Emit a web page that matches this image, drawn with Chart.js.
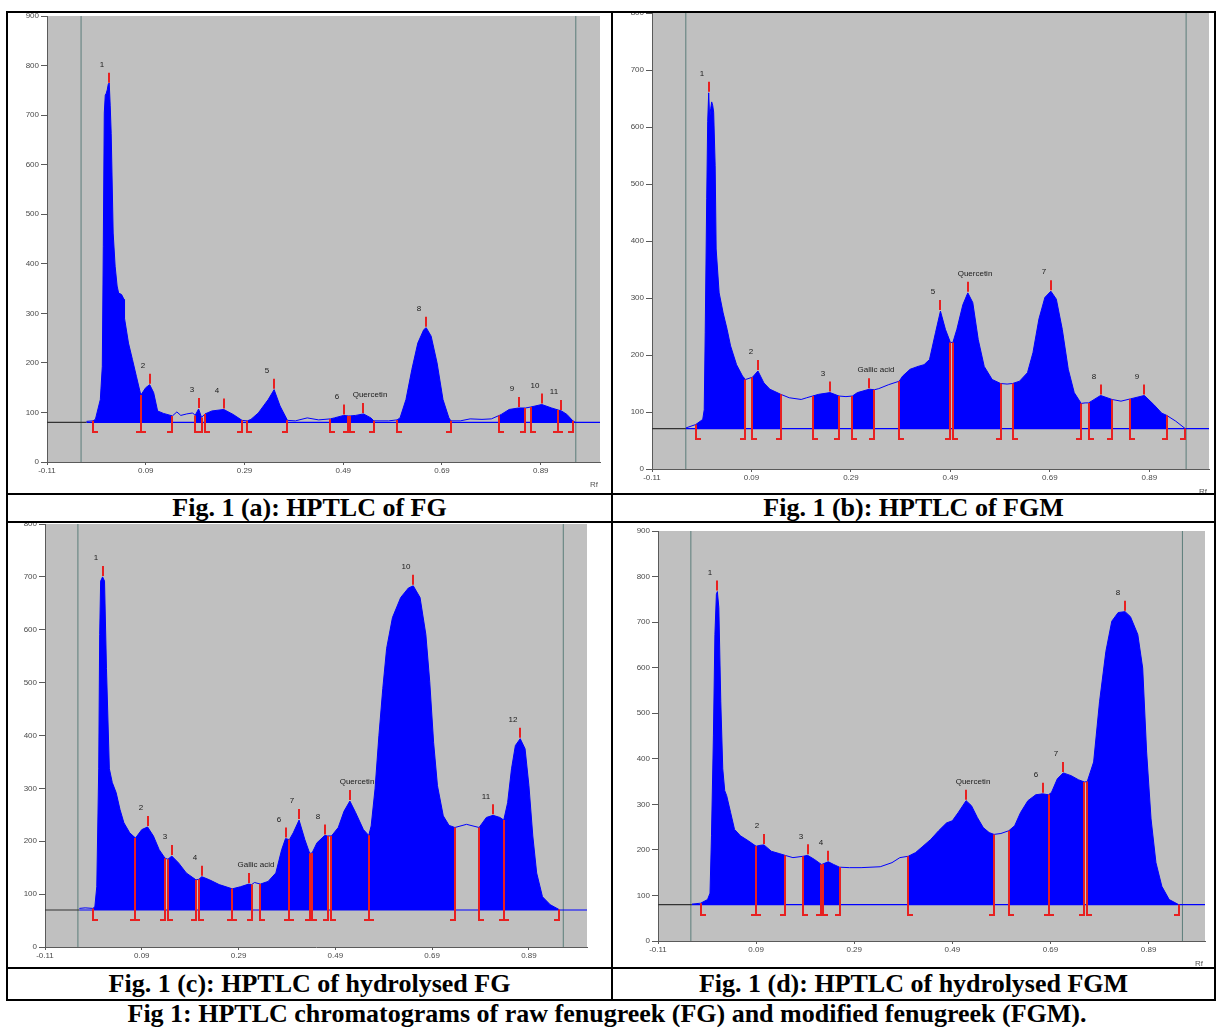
<!DOCTYPE html>
<html><head><meta charset="utf-8">
<script src="https://cdn.jsdelivr.net/npm/chart.js@4.4.1/dist/chart.umd.min.js"></script>
<style>
html,body{margin:0;padding:0;background:#fff;}
body{width:1217px;height:1027px;position:relative;overflow:hidden;font-family:"Liberation Serif","Times New Roman",serif;}
.ln{position:absolute;background:#000;}
.cell{position:absolute;overflow:hidden;}
.cell canvas{position:absolute;}
.cap{position:absolute;font-weight:bold;font-size:26px;text-align:center;white-space:nowrap;color:#000;}
</style></head><body>
<div class="ln" style="left:6px;top:11px;width:1210px;height:2px"></div>
<div class="ln" style="left:6px;top:999px;width:1210px;height:2px"></div>
<div class="ln" style="left:6px;top:11px;width:2px;height:990px"></div>
<div class="ln" style="left:1214px;top:11px;width:2px;height:990px"></div>
<div class="ln" style="left:611px;top:11px;width:2px;height:990px"></div>
<div class="ln" style="left:6px;top:493px;width:1210px;height:2px"></div>
<div class="ln" style="left:6px;top:521px;width:1210px;height:2px"></div>
<div class="ln" style="left:6px;top:967px;width:1210px;height:2px"></div>

<div class="cell" id="cellA" style="left:8px;top:13px;width:603px;height:480px"><canvas id="cA"></canvas></div>
<div class="cell" id="cellB" style="left:613px;top:13px;width:601px;height:480px"><canvas id="cB"></canvas></div>
<div class="cell" id="cellC" style="left:8px;top:523px;width:603px;height:444px"><canvas id="cC"></canvas></div>
<div class="cell" id="cellD" style="left:613px;top:523px;width:601px;height:444px"><canvas id="cD"></canvas></div>

<div class="cap" style="left:8px;top:495px;width:603px;line-height:26px">Fig. 1 (a): HPTLC of FG</div>
<div class="cap" style="left:613px;top:495px;width:601px;line-height:26px">Fig. 1 (b): HPTLC of FGM</div>
<div class="cap" style="left:8px;top:969px;width:603px;line-height:30px">Fig. 1 (c): HPTLC of hydrolysed FG</div>
<div class="cap" style="left:613px;top:969px;width:601px;line-height:30px">Fig. 1 (d): HPTLC of hydrolysed FGM</div>
<div class="cap" style="left:0px;top:1001px;width:1214px;line-height:26px">Fig 1: HPTLC chromatograms of raw fenugreek (FG) and modified fenugreek (FGM).</div>

<script>
// ---------- data ----------
const xTickValues = [-0.11, 0.09, 0.29, 0.49, 0.69, 0.89];

// (a) raw fenugreek FG  [Rf, AU]
const fgCurve = [[-0.030,82],[-0.017,83],[-0.012,86],[-0.002,126],[0.002,193],[0.004,435],[0.006,704],[0.008,740],[0.010,744],[0.012,751],[0.014,762],[0.016,765],[0.018,720],[0.020,663],[0.024,462],[0.028,395],[0.032,355],[0.035,341],[0.041,338],[0.046,328],[0.047,290],[0.055,240],[0.063,207],[0.071,173],[0.080,135],[0.090,150],[0.098,156],[0.106,140],[0.114,103],[0.126,98],[0.144,93],[0.153,101],[0.161,94],[0.173,97],[0.185,99],[0.190,94],[0.197,107],[0.203,90],[0.210,97],[0.224,103],[0.248,106],[0.267,96],[0.285,84],[0.296,83],[0.303,86],[0.318,99],[0.338,126],[0.350,146],[0.362,113],[0.377,84],[0.393,83],[0.417,89],[0.440,85],[0.464,87],[0.472,89],[0.491,94],[0.500,93],[0.504,93],[0.515,94],[0.531,97],[0.546,89],[0.552,83],[0.582,83],[0.599,85],[0.605,89],[0.617,126],[0.629,187],[0.641,240],[0.653,267],[0.658,271],[0.668,254],[0.680,200],[0.692,126],[0.704,89],[0.708,83],[0.727,83],[0.747,87],[0.771,86],[0.790,87],[0.806,94],[0.810,96],[0.826,106],[0.845,109],[0.859,109],[0.870,111],[0.892,116],[0.912,109],[0.925,105],[0.932,103],[0.943,96],[0.955,83],[0.960,80]];
const fgRegions = [[-0.017,0.080],[0.080,0.144],[0.190,0.203],[0.210,0.285],[0.296,0.377],[0.464,0.500],[0.504,0.552],[0.599,0.708],[0.806,0.859],[0.870,0.925],[0.925,0.955]];
const fgPeaks = [[0.015,'1'],[0.098,'2'],[0.197,'3'],[0.248,'4'],[0.350,'5'],[0.491,'6'],[0.531,'Quercetin'],[0.658,'8'],[0.845,'9'],[0.892,'10'],[0.932,'11']];
const fgBaseline = 80;
const fgFrontLines = [-0.041, 0.961];
const fgExtraEnds = [];

// (b) modified fenugreek FGM
const fgmCurve = [[-0.042,72],[-0.022,78],[-0.008,87],[-0.005,104],[-0.003,239],[0.000,474],[0.002,610],[0.004,660],[0.006,615],[0.008,632],[0.010,644],[0.012,638],[0.014,626],[0.017,532],[0.019,386],[0.025,309],[0.033,274],[0.041,245],[0.048,216],[0.060,183],[0.072,163],[0.078,157],[0.085,159],[0.092,161],[0.103,172],[0.115,151],[0.127,140],[0.149,131],[0.166,125],[0.190,122],[0.201,125],[0.213,128],[0.225,131],[0.248,134],[0.266,128],[0.280,127],[0.293,128],[0.303,134],[0.327,140],[0.337,139],[0.346,141],[0.366,148],[0.387,154],[0.394,163],[0.409,175],[0.425,180],[0.437,183],[0.448,192],[0.460,239],[0.470,277],[0.480,245],[0.490,222],[0.495,222],[0.503,245],[0.515,288],[0.525,309],[0.535,292],[0.546,227],[0.558,180],[0.574,157],[0.591,150],[0.604,149],[0.615,150],[0.629,154],[0.645,169],[0.656,204],[0.668,263],[0.680,301],[0.692,312],[0.703,298],[0.715,245],[0.727,175],[0.739,134],[0.753,115],[0.761,116],[0.768,116],[0.792,129],[0.815,122],[0.833,119],[0.852,123],[0.880,129],[0.899,113],[0.915,98],[0.925,94],[0.943,84],[0.962,71]];
const fgmRegions = [[-0.022,0.078],[0.092,0.149],[0.213,0.266],[0.293,0.337],[0.387,0.490],[0.495,0.591],[0.615,0.753],[0.768,0.815],[0.852,0.925]];
const fgmPeaks = [[0.004,'1'],[0.103,'2'],[0.248,'3'],[0.327,'Gallic acid'],[0.470,'5'],[0.525,'Quercetin'],[0.692,'7'],[0.792,'8'],[0.880,'9']];
const fgmBaseline = 71;
const fgmFrontLines = [-0.042, 0.964];
const fgmExtraEnds = [0.962];

// (c) hydrolysed FG
const hfgCurve = [[-0.039,73],[-0.027,74],[-0.011,73],[-0.007,76],[-0.003,114],[0.001,337],[0.003,591],[0.005,692],[0.009,700],[0.013,692],[0.017,527],[0.023,337],[0.029,311],[0.037,292],[0.045,260],[0.053,235],[0.065,216],[0.077,206],[0.090,222],[0.102,227],[0.114,210],[0.126,184],[0.138,168],[0.144,166],[0.152,172],[0.166,159],[0.182,140],[0.202,127],[0.208,128],[0.214,133],[0.230,127],[0.250,118],[0.277,110],[0.294,114],[0.311,119],[0.317,118],[0.323,122],[0.335,119],[0.351,124],[0.367,140],[0.379,184],[0.387,205],[0.395,203],[0.403,216],[0.415,240],[0.427,203],[0.437,177],[0.442,178],[0.452,197],[0.468,211],[0.474,210],[0.482,210],[0.496,226],[0.508,257],[0.520,276],[0.532,254],[0.548,222],[0.559,211],[0.564,229],[0.572,299],[0.580,400],[0.588,489],[0.596,565],[0.608,623],[0.625,661],[0.641,679],[0.651,683],[0.665,661],[0.677,591],[0.685,502],[0.693,387],[0.701,305],[0.713,248],[0.725,230],[0.737,226],[0.761,232],[0.787,226],[0.802,245],[0.816,249],[0.830,245],[0.838,240],[0.846,273],[0.854,337],[0.862,381],[0.872,394],[0.882,375],[0.890,305],[0.898,210],[0.906,140],[0.918,95],[0.934,80],[0.952,71]];
const hfgRegions = [[-0.011,0.077],[0.077,0.138],[0.144,0.202],[0.208,0.277],[0.277,0.317],[0.335,0.395],[0.395,0.437],[0.442,0.474],[0.482,0.559],[0.559,0.737],[0.787,0.838],[0.838,0.952]];
const hfgPeaks = [[0.009,'1'],[0.102,'2'],[0.152,'3'],[0.214,'4'],[0.311,'Gallic acid'],[0.387,'6'],[0.415,'7'],[0.468,'8'],[0.520,'Quercetin'],[0.651,'10'],[0.816,'11'],[0.872,'12']];
const hfgBaseline = 70;
const hfgFrontLines = [-0.042, 0.961];
const hfgExtraEnds = [];

// (d) hydrolysed FGM
const hfgmCurve = [[-0.041,81],[-0.023,83],[-0.009,91],[-0.004,105],[-0.001,231],[0.003,452],[0.006,673],[0.009,761],[0.011,767],[0.014,732],[0.018,525],[0.022,378],[0.026,330],[0.030,319],[0.038,282],[0.046,245],[0.058,231],[0.074,220],[0.090,208],[0.098,210],[0.106,211],[0.121,197],[0.137,192],[0.149,188],[0.165,183],[0.186,186],[0.195,188],[0.209,179],[0.223,168],[0.226,169],[0.237,174],[0.248,168],[0.260,162],[0.280,161],[0.304,161],[0.343,163],[0.367,172],[0.383,183],[0.400,186],[0.415,194],[0.430,208],[0.446,223],[0.462,242],[0.478,259],[0.490,264],[0.502,282],[0.518,308],[0.529,297],[0.541,271],[0.553,249],[0.565,238],[0.575,234],[0.589,236],[0.605,242],[0.617,253],[0.629,282],[0.644,308],[0.660,321],[0.674,323],[0.686,321],[0.692,326],[0.704,356],[0.716,369],[0.732,363],[0.747,354],[0.759,349],[0.765,350],[0.778,393],[0.790,525],[0.803,636],[0.815,702],[0.828,721],[0.842,723],[0.853,712],[0.868,673],[0.878,599],[0.886,415],[0.895,268],[0.905,172],[0.917,120],[0.932,91],[0.951,80]];
const hfgmRegions = [[-0.023,0.090],[0.090,0.149],[0.186,0.223],[0.226,0.260],[0.400,0.575],[0.605,0.686],[0.686,0.759],[0.765,0.951]];
const hfgmPeaks = [[0.011,'1'],[0.106,'2'],[0.195,'3'],[0.237,'4'],[0.518,'Quercetin'],[0.674,'6'],[0.716,'7'],[0.842,'8']];
const hfgmBaseline = 80;
const hfgmFrontLines = [-0.043, 0.959];
const hfgmExtraEnds = [];

// ---------- layout (page px) ----------
const panels = [
  {canvas:'cA', cell:'cellA', curve:fgCurve, regions:fgRegions, peaks:fgPeaks, base:fgBaseline, front:fgFrontLines, ends:fgExtraEnds, ymax:900, xmax:1.01, plot:[47,16,600,462]},
  {canvas:'cB', cell:'cellB', curve:fgmCurve, regions:fgmRegions, peaks:fgmPeaks, base:fgmBaseline, front:fgmFrontLines, ends:fgmExtraEnds, ymax:800, xmax:1.01, plot:[652,13,1209,469]},
  {canvas:'cC', cell:'cellC', curve:hfgCurve, regions:hfgRegions, peaks:hfgPeaks, base:hfgBaseline, front:hfgFrontLines, ends:hfgExtraEnds, ymax:800, xmax:1.01, plot:[45,524,587,947]},
  {canvas:'cD', cell:'cellD', curve:hfgmCurve, regions:hfgmRegions, peaks:hfgmPeaks, base:hfgmBaseline, front:hfgmFrontLines, ends:hfgmExtraEnds, ymax:900, xmax:1.005, plot:[658,531,1205,941]}
];

const BLUE = '#0000ff', RED = '#e82020', GREEN = '#5b7d7a', AXIS = '#5a5a5a';
const XMIN = -0.11;
const PAD = {left:4, top:8, right:6, bottom:4};
const YW = 40, XH = 30;

function curveAt(curve, rf) {
  if (rf <= curve[0][0]) return curve[0][1];
  for (let i = 1; i < curve.length; i++) {
    if (rf <= curve[i][0]) {
      const [x0, y0] = curve[i-1], [x1, y1] = curve[i];
      return y0 + (rf - x0) / (x1 - x0) * (y1 - y0);
    }
  }
  return curve[curve.length-1][1];
}

function decorPlugin(p) {
  return {
    id: 'decor',
    beforeDraw(chart) {
      const {ctx, chartArea: a} = chart;
      ctx.save();
      ctx.fillStyle = '#c0c0c0';
      ctx.fillRect(a.left, a.top, a.right - a.left, a.bottom - a.top);
      ctx.restore();
    },
    afterDatasetsDraw(chart) {
      const {ctx, scales: {x, y}, chartArea: a} = chart;
      ctx.save();
      ctx.strokeStyle = RED;
      ctx.lineWidth = 2;
      ctx.lineCap = 'butt';
      const yb = Math.round(y.getPixelForValue(p.base));
      const bracket = (rf, dir) => {
        const px = Math.round(x.getPixelForValue(rf));
        const top = y.getPixelForValue(curveAt(p.curve, rf));
        ctx.beginPath();
        ctx.moveTo(px, top);
        ctx.lineTo(px, yb + 10);
        ctx.lineTo(px + dir * 5, yb + 10);
        ctx.stroke();
      };
      p.regions.forEach(([s, e]) => { bracket(s, 1); bracket(e, -1); });
      p.ends.forEach(rf => bracket(rf, -1));
      // peak ticks + labels
      ctx.font = '8px "Liberation Sans", Arial, sans-serif';
      ctx.textAlign = 'center';
      ctx.textBaseline = 'middle';
      p.peaks.forEach(([rf, lab]) => {
        const px = Math.round(x.getPixelForValue(rf));
        const top = y.getPixelForValue(curveAt(p.curve, rf)) - 1;
        ctx.strokeStyle = RED;
        ctx.lineWidth = 2;
        ctx.beginPath(); ctx.moveTo(px, top); ctx.lineTo(px, top - 10); ctx.stroke();
        ctx.fillStyle = '#1a1a1a';
        const isNum = /^\d+$/.test(lab);
        ctx.fillText(lab, isNum ? px - 7 : px + 7, top - 18);
      });
      // Rf axis caption
      ctx.fillStyle = '#555';
      ctx.textAlign = 'right';
      ctx.fillText('Rf', a.right - 2, a.bottom + 23);
      ctx.restore();
    }
  };
}

function build(p) {
  const [L, T, R, B] = p.plot;
  const cv = document.getElementById(p.canvas);
  const cell = document.getElementById(p.cell);
  cv.width = (R - L) + PAD.left + YW + PAD.right;
  cv.height = (B - T) + PAD.top + XH + PAD.bottom;
  cv.style.width = cv.width + 'px';
  cv.style.height = cv.height + 'px';

  const datasets = [];
  // integrated (filled) peak windows
  p.regions.forEach(([s, e]) => {
    datasets.push({
      data: p.curve.filter(pt => pt[0] >= s - 1e-9 && pt[0] <= e + 1e-9).map(pt => ({x: pt[0], y: pt[1]})),
      borderColor: 'rgba(0,0,0,0)', borderWidth: 0, backgroundColor: BLUE,
      fill: {value: p.base}, order: 5
    });
  });
  // scan curve
  datasets.push({data: p.curve.map(pt => ({x: pt[0], y: pt[1]})), borderColor: BLUE, borderWidth: 1, fill: false, order: 2});
  // baseline
  const first = p.curve[0][0];
  datasets.push({data: [{x: XMIN, y: p.base}, {x: first, y: p.base}], borderColor: '#333', borderWidth: 1.2, fill: false, order: 1});
  datasets.push({data: [{x: first, y: p.base}, {x: p.xmax, y: p.base}], borderColor: BLUE, borderWidth: 1.2, fill: false, order: 1});
  // application / solvent-front lines
  p.front.forEach(f => datasets.push({data: [{x: f, y: 0}, {x: f, y: p.ymax}], borderColor: GREEN, borderWidth: 1, fill: false, order: 6}));

  const chart = new Chart(cv, {
    type: 'line',
    data: {datasets},
    options: {
      responsive: false, animation: false, devicePixelRatio: 1, events: [],
      layout: {padding: PAD},
      elements: {point: {radius: 0}, line: {tension: 0}},
      plugins: {legend: {display: false}, tooltip: {enabled: false}},
      scales: {
        x: {
          type: 'linear', min: XMIN, max: p.xmax,
          afterBuildTicks: s => { s.ticks = xTickValues.map(v => ({value: v})); },
          afterFit: s => { s.height = XH; },
          ticks: {callback: v => Number(v).toFixed(2), autoSkip: false, maxRotation: 0, padding: 1,
                  font: {size: 8, family: '"Liberation Sans", Arial, sans-serif'}, color: '#4a4a4a'},
          grid: {drawOnChartArea: false, tickLength: 3, color: AXIS},
          border: {color: AXIS, width: 1}
        },
        y: {
          min: 0, max: p.ymax,
          afterFit: s => { s.width = YW; },
          ticks: {stepSize: 100, padding: 2, font: {size: 8, family: '"Liberation Sans", Arial, sans-serif'}, color: '#4a4a4a'},
          grid: {drawOnChartArea: false, tickLength: 6, color: AXIS},
          border: {color: AXIS, width: 1}
        }
      }
    },
    plugins: [decorPlugin(p)]
  });
  const ca = chart.chartArea;
  cv.style.left = (L - ca.left - cell.offsetLeft) + 'px';
  cv.style.top = (T - ca.top - cell.offsetTop) + 'px';
}

panels.forEach(build);
</script>
</body></html>
